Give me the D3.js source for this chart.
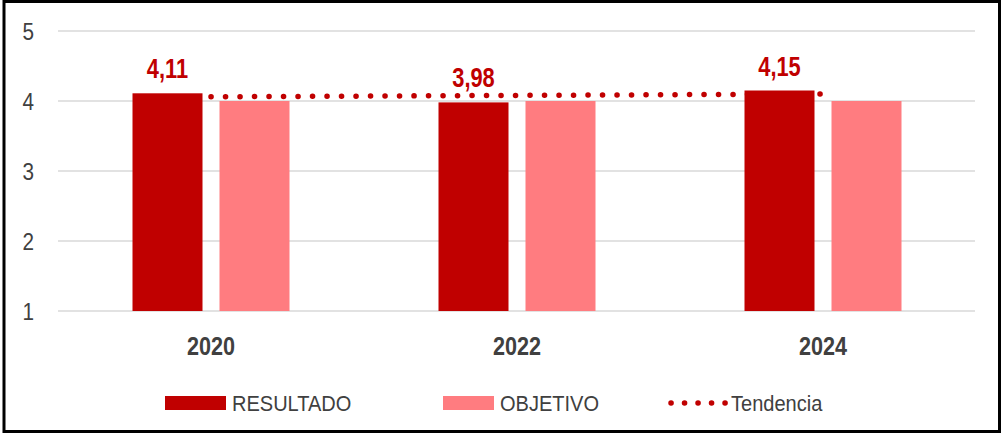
<!DOCTYPE html>
<html>
<head>
<meta charset="utf-8">
<script src="https://cdn.jsdelivr.net/npm/d3@7"></script>
<style>
  html, body { margin: 0; padding: 0; background: #fff; }
  svg { display: block; font-family: "Liberation Sans", Arial, sans-serif; }
</style>
</head>
<body>
<svg id="chart" width="1002" height="434"></svg>
<script>
// Survey years and series values
const years = ["2020", "2022", "2024"];
const resultado = [4.11, 3.98, 4.15];
const objetivo = [4.0, 4.0, 4.0];
const valueLabels = ["4,11", "3,98", "4,15"];
const yTicks = [1, 2, 3, 4, 5];
const seriesNames = ["RESULTADO", "OBJETIVO", "Tendencia"];

const colResultado = "#c00000";
const colObjetivo = "#ff7c80";
const colText = "#404040";

const svg = d3.select("#chart");

// Narrow-looking text: squeeze each label horizontally by a factor
function condense(sel, k) {
  sel.each(function () {
    const w = this.getComputedTextLength();
    d3.select(this).attr("textLength", w * k).attr("lengthAdjust", "spacingAndGlyphs");
  });
}

// Plot area
const plotLeft = 58, plotRight = 976, plotTop = 31, plotBottom = 311;

const x = d3.scaleBand().domain(years).range([plotLeft, plotRight]).paddingInner(0).paddingOuter(0);
const y = d3.scaleLinear().domain([1, 5]).range([plotBottom, plotTop]);

const barW = 70, barGap = 17;
const groupW = barW * 2 + barGap;
const barX = (yr, i) => x(yr) + x.bandwidth() / 2 - groupW / 2 + i * (barW + barGap);

// Gridlines
svg.append("g")
  .selectAll("line")
  .data(yTicks)
  .join("line")
  .attr("x1", plotLeft).attr("x2", plotRight - 1)
  .attr("y1", d => y(d)).attr("y2", d => y(d))
  .attr("stroke", "#d9d9d9").attr("stroke-width", 1.5);

// Y axis labels
const yAxis = d3.axisLeft(y).tickValues(yTicks).tickSize(0).tickPadding(0).tickFormat(d3.format("d"));
const gy = svg.append("g").attr("transform", "translate(34,0)").call(yAxis);
gy.select(".domain").remove();
gy.selectAll("text")
  .attr("fill", colText)
  .style("font-family", "'Liberation Sans', Arial, sans-serif")
  .style("font-size", "23px")
  .attr("dy", "0.36em")
  .call(condense, 0.9);

// X axis labels
const xAxis = d3.axisBottom(x).tickSize(0).tickPadding(0);
const gx = svg.append("g").attr("transform", `translate(0,${plotBottom})`).call(xAxis);
gx.select(".domain").remove();
gx.selectAll("text")
  .attr("fill", colText)
  .attr("y", 44)
  .attr("dy", 0)
  .style("font-family", "'Liberation Sans', Arial, sans-serif")
  .style("font-size", "26px")
  .style("font-weight", "bold")
  .call(condense, 0.83);

// OBJETIVO bars
svg.append("g").selectAll("rect")
  .data(years)
  .join("rect")
  .attr("x", (d) => barX(d, 1))
  .attr("width", barW)
  .attr("y", (d, i) => y(objetivo[i]))
  .attr("height", (d, i) => y(1) - y(objetivo[i]))
  .attr("fill", colObjetivo);

// Linear trend of RESULTADO (least squares), from first to last category centre
const n = resultado.length;
const xs = d3.range(n);
const mx = d3.mean(xs), my = d3.mean(resultado);
const slope = d3.sum(xs, (v, i) => (v - mx) * (resultado[i] - my)) / d3.sum(xs, v => (v - mx) ** 2);
const icpt = my - slope * mx;
const trendPts = xs.map(i => [x(years[i]) + x.bandwidth() / 2, y(icpt + slope * i)]);

svg.append("path")
  .attr("d", d3.line()(trendPts))
  .attr("fill", "none")
  .attr("stroke", colResultado)
  .attr("stroke-width", 5.5)
  .attr("stroke-linecap", "round")
  .attr("stroke-dasharray", "0.1 14.4");

// RESULTADO bars
svg.append("g").selectAll("rect")
  .data(years)
  .join("rect")
  .attr("x", (d) => barX(d, 0))
  .attr("width", barW)
  .attr("y", (d, i) => y(resultado[i]))
  .attr("height", (d, i) => y(1) - y(resultado[i]))
  .attr("fill", colResultado);

// Value labels
svg.append("g").selectAll("text")
  .data(years)
  .join("text")
  .attr("x", d => barX(d, 0) + barW / 2)
  .attr("y", (d, i) => y(resultado[i]) - 15)
  .attr("text-anchor", "middle")
  .attr("fill", colResultado)
  .style("font-size", "28px")
  .style("font-weight", "bold")
  .text((d, i) => valueLabels[i])
  .call(condense, 0.78);

// Legend
const legY = 403;
const leg = svg.append("g");
leg.append("rect").attr("x", 165).attr("y", legY - 7).attr("width", 61).attr("height", 14).attr("fill", colResultado);
leg.append("rect").attr("x", 443).attr("y", legY - 7).attr("width", 51).attr("height", 14).attr("fill", colObjetivo);
leg.append("line").attr("x1", 671).attr("x2", 727).attr("y1", legY).attr("y2", legY)
  .attr("stroke", colResultado).attr("stroke-width", 5.5).attr("stroke-linecap", "round")
  .attr("stroke-dasharray", "0.1 13.4");
leg.selectAll("text")
  .data(seriesNames)
  .join("text")
  .attr("x", (d, i) => [232, 500, 731][i])
  .attr("y", legY)
  .attr("dy", "0.36em")
  .attr("fill", colText)
  .style("font-size", "22px")
  .text(d => d)
  .call(condense, 0.91);

// Frame
svg.append("rect")
  .attr("x", 4).attr("y", 1.5).attr("width", 995.5).attr("height", 430)
  .attr("fill", "none").attr("stroke", "#000").attr("stroke-width", 3);
</script>
</body>
</html>
